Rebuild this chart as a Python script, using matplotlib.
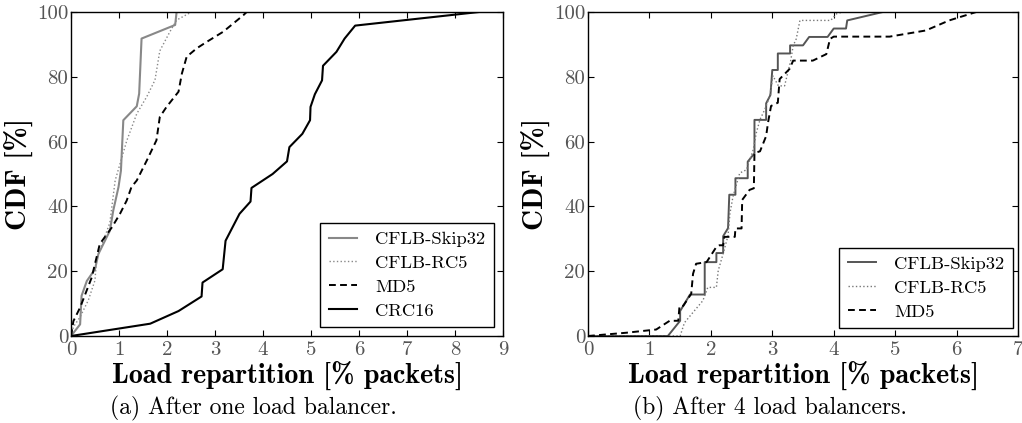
import matplotlib
matplotlib.use("Agg")
import matplotlib.pyplot as plt

plt.rcParams['font.family'] = ['cmr10', 'DejaVu Serif']
plt.rcParams['axes.unicode_minus'] = False
plt.rcParams['axes.formatter.use_mathtext'] = False

# ---------------- Data: (a) after one load balancer ----------------
a_skip32_x = [0, 0.19, 0.22, 0.33, 0.5, 0.57, 0.81, 0.88, 0.99, 1.04, 1.09, 1.37, 1.42, 1.47, 2.17, 2.2, 9]
a_skip32_y = [0, 3.6, 12.4, 17, 20.6, 25.3, 32.5, 38.7, 46, 51, 66.6, 70.9, 74.8, 91.8, 96, 100, 100]

a_rc5_x = [0, 0.05, 0.19, 0.36, 0.5, 0.53, 0.81, 0.92, 1.16, 1.37, 1.58, 1.75, 1.85, 2.06, 2.2, 2.51, 9]
a_rc5_y = [0, 2.8, 5.9, 11, 17.2, 23.4, 35, 48, 60.2, 68.6, 73.9, 79, 88, 93.9, 97.5, 100, 100]

a_md5_x = [0, 0.05, 0.19, 0.43, 0.6, 0.85, 1.02, 1.16, 1.26, 1.37, 1.58, 1.78, 1.85, 1.99, 2.24,
           2.31, 2.41, 2.62, 2.83, 3.17, 3.59, 3.66, 9]
a_md5_y = [0, 4.6, 8.8, 18, 28.4, 33.5, 37.7, 41.8, 46, 48, 54.2, 60.4, 67.6, 70.7, 75.4,
           81, 86.2, 88.8, 90.8, 93.9, 99, 100, 100]

a_crc16_x = [0, 1.65, 2.24, 2.72, 2.74, 3.16, 3.22, 3.51, 3.74, 3.76, 4.2, 4.5, 4.55, 4.82, 4.98,
             4.99, 5.08, 5.23, 5.25, 5.53, 5.7, 5.92, 8.5]
a_crc16_y = [0, 3.8, 7.7, 12.2, 16.5, 20.6, 29.4, 37.7, 41.5, 45.7, 50, 53.9, 58.3, 62.4, 66.6,
             70.7, 74.6, 78.9, 83.4, 87.7, 91.8, 95.8, 100]

# ---------------- Data: (b) after 4 load balancers ----------------
b_skip32_x = [0, 1.3, 1.5, 1.5, 1.66, 1.9, 1.9, 2.09, 2.09, 2.2, 2.2, 2.28, 2.3, 2.4, 2.4, 2.6, 2.6,
              2.71, 2.71, 2.9, 2.9, 2.97, 3.0, 3.09, 3.09, 3.29, 3.29, 3.5, 3.6, 3.9, 4.0, 4.2, 4.22, 4.8, 7]
b_skip32_y = [0, 0, 4.7, 7.7, 12.8, 12.8, 22.8, 22.8, 25.6, 25.6, 30.8, 33.3, 43.6, 43.6, 48.7, 48.7, 53.8,
              56.4, 66.7, 66.7, 71.8, 74.4, 82.1, 82.1, 87.2, 87.2, 89.7, 89.7, 92.3, 92.3, 94.9, 94.9, 97.4, 100, 100]

b_rc5_x = [0, 1.5, 1.57, 1.71, 1.87, 1.95, 2.09, 2.12, 2.2, 2.28, 2.31, 2.36, 2.47, 2.58, 2.69, 2.74,
           2.8, 2.88, 2.96, 3.01, 3.1, 3.2, 3.3, 3.34, 3.39, 3.45, 3.95, 4.05, 4.15, 7]
b_rc5_y = [0, 0, 4.1, 7.3, 10.9, 15, 15, 20.2, 25.4, 31, 37.8, 43, 50.3, 51.3, 57.5, 62.7,
           66.8, 70, 74.1, 80.3, 77.2, 77.2, 85, 89.6, 91.7, 97.4, 97.4, 99.5, 100, 100]

b_md5_x = [0, 0.62, 1.11, 1.33, 1.47, 1.49, 1.55, 1.68, 1.71, 1.76, 1.93, 2.09, 2.14, 2.2, 2.22,
           2.39, 2.4, 2.5, 2.51, 2.63, 2.7, 2.71, 2.8, 2.9, 2.93, 2.98, 3.09, 3.12, 3.28, 3.34,
           3.66, 3.88, 3.94, 4.0, 4.91, 5.5, 5.88, 6.32, 7]
b_md5_y = [0, 1, 2, 4.7, 4.7, 9.3, 9.3, 13, 19.2, 22.3, 22.8, 27.5, 28, 28, 30.6,
           30.6, 33.2, 33.2, 42, 45.1, 45.6, 56.5, 57, 61.7, 65.8, 71, 72, 79.3, 82.4, 85,
           85, 87, 91.7, 92.4, 92.4, 94.3, 97.4, 100, 100]

labels = ["CFLB-Skip32", "CFLB-RC5", "MD5", "CRC16"]
a_xticks = list(range(0, 10))
b_xticks = list(range(0, 8))
yticks = [0, 20, 40, 60, 80, 100]

W, H = 1022, 423
fig = plt.figure(figsize=(W / 100, H / 100), dpi=100)

ax1 = fig.add_axes([71 / W, 1 - 336 / H, 432 / W, 324 / H])
ax2 = fig.add_axes([588 / W, 1 - 336 / H, 430 / W, 324 / H])

dash = (0, (3.5, 2.2))
ax1.plot(a_skip32_x, a_skip32_y, color='#888888', lw=1.5, label=labels[0])
ax1.plot(a_rc5_x, a_rc5_y, color='#888888', lw=1.0, ls=':', label=labels[1])
ax1.plot(a_md5_x, a_md5_y, color='black', lw=1.4, ls=dash, label=labels[2])
ax1.plot(a_crc16_x, a_crc16_y, color='black', lw=1.5, label=labels[3])

ax2.plot(b_skip32_x, b_skip32_y, color='#555555', lw=1.4, label=labels[0])
ax2.plot(b_rc5_x, b_rc5_y, color='#777777', lw=1.0, ls=':', label=labels[1])
ax2.plot(b_md5_x, b_md5_y, color='black', lw=1.4, ls=dash, label=labels[2])

for ax, xt, xmax in [(ax1, a_xticks, 9), (ax2, b_xticks, 7)]:
    ax.set_xlim(0, xmax)
    ax.set_ylim(0, 100)
    ax.set_xticks(xt)
    ax.set_yticks(yticks)
    ax.tick_params(direction='in', top=True, right=True, length=4, width=0.8,
                   labelsize=15, labelcolor='#555555')
    ax.tick_params(axis='x', pad=4)
    ax.tick_params(axis='y', pad=2)
    for s in ax.spines.values():
        s.set_linewidth(1.0)
    ax.set_xlabel("Load repartition [% packets]", fontfamily='cmb10', fontsize=20.2, labelpad=1)
    ax.set_ylabel("CDF [%]", fontfamily='cmb10', fontsize=21, labelpad=3)

leg_kw = dict(loc='lower right', fancybox=False, framealpha=1, edgecolor='black',
              fontsize=13.4, handlelength=1.5, handletextpad=1.0, borderpad=0.45,
              labelspacing=0.42, borderaxespad=0)
l1 = ax1.legend(bbox_to_anchor=((494 - 71) / 432, (336 - 327) / 324), **leg_kw)
l2 = ax2.legend(bbox_to_anchor=((1013 - 588) / 430, (336 - 328) / 324), **leg_kw)
for l in (l1, l2):
    l.get_frame().set_linewidth(1.0)

fig.text(253 / W, 1 - 408 / H, "(a) After one load balancer.", ha='center', va='center', fontsize=17)
fig.text(770 / W, 1 - 408 / H, "(b) After 4 load balancers.", ha='center', va='center', fontsize=17)

fig.savefig("out.png", dpi=100)
